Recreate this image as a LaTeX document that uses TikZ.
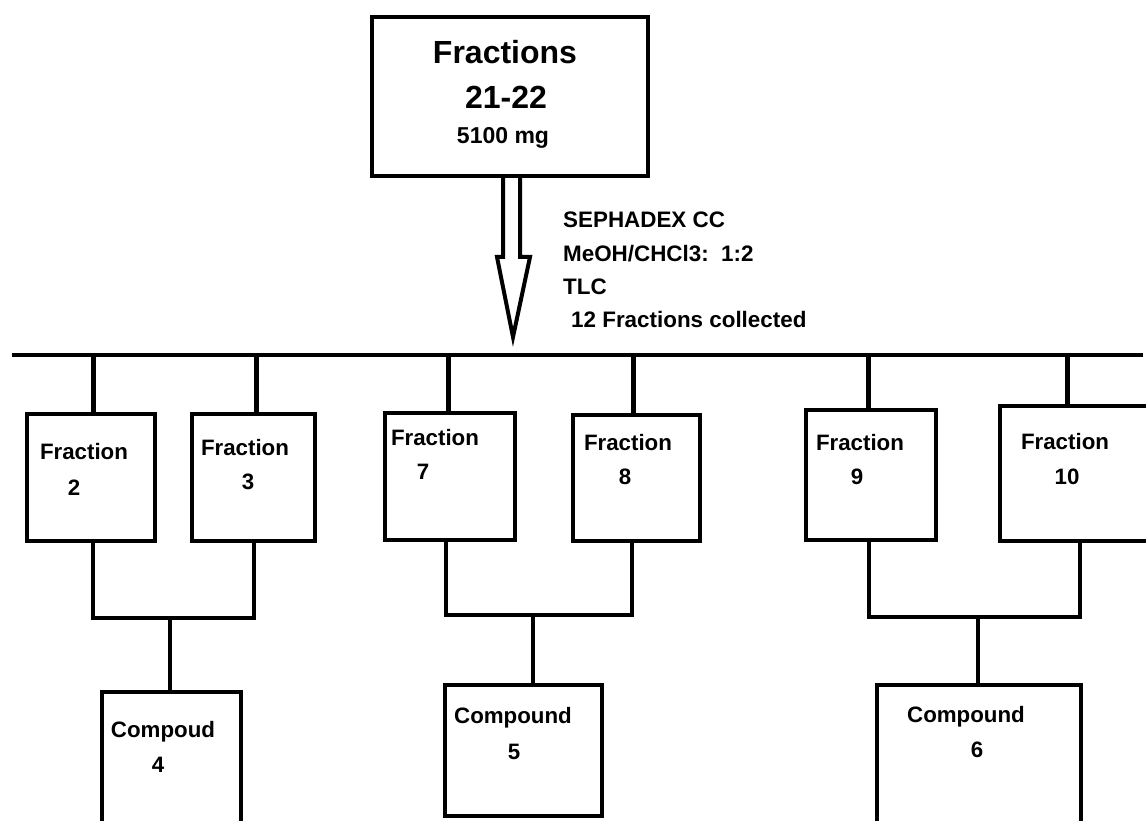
\documentclass[tikz,border=0pt]{standalone}
\usepackage{fontspec}
\setmainfont{Liberation Sans}
\usetikzlibrary{calc}
\begin{document}
\begin{tikzpicture}[x=1pt,y=-1pt,
  box/.style={draw,line width=4pt,inner sep=0pt},
  lbl/.style={font=\bfseries\fontsize{22.3}{24}\selectfont,inner sep=0pt},
  conn/.style={line width=4pt},
  tconn/.style={line width=5pt}]
\useasboundingbox (0,0) rectangle (1146,821);
\clip (0,0) rectangle (1146,821);
% top box
\node[box,minimum width=276pt,minimum height=159pt] (top) at (510,96.5) {};
\node[inner sep=0pt,font=\bfseries\fontsize{32}{36}\selectfont] (t1) at (505,52) {Fractions};
\node[inner sep=0pt,font=\bfseries\fontsize{32}{36}\selectfont] (t2) at (506,97) {21-22};
\node[inner sep=0pt,font=\bfseries\fontsize{23}{26}\selectfont] (t3) at (503,138) {5100 mg};
% hollow arrow
\draw[line width=4pt,line join=miter]
  ($(top.south)+(-7,0)$) -- ++(0,79) -- ++(-6,0) -- ($(top.south)+(3,159)$)
  -- ($(top.south)+(20,79)$) -- ($(top.south)+(10,79)$) -- ($(top.south)+(10,0)$);
\node[inner sep=0pt,anchor=west,align=left,font=\bfseries\fontsize{22.4}{33.4}\selectfont] (note) at (563,270)
  {SEPHADEX CC\\MeOH/CHCl3:\ \ 1:2\\TLC\\\hspace*{8pt}12 Fractions collected};
% bus
\coordinate (busL) at (12,355);
\coordinate (busR) at (1143,355);
\draw[conn] (busL) -- (busR);
% fraction boxes
\node[box,minimum width=128pt,minimum height=127pt] (f2) at (91,477.5) {};
\node[box,minimum width=123pt,minimum height=127pt] (f3) at (253.5,477.5) {};
\node[box,minimum width=130pt,minimum height=127pt] (f7) at (450,476.5) {};
\node[box,minimum width=127pt,minimum height=126pt] (f8) at (636.5,478) {};
\node[box,minimum width=130pt,minimum height=130pt] (f9) at (871,475) {};
\node[box,minimum width=158pt,minimum height=135pt] (f10) at (1079,473.5) {};
\node[lbl] (f2a) at (84,452) {Fraction};
\node[lbl] (f2b) at (74,488) {2};
\node[lbl] (f3a) at (245,448) {Fraction};
\node[lbl] (f3b) at (248,482) {3};
\node[lbl] (f7a) at (435,438) {Fraction};
\node[lbl] (f7b) at (423,472) {7};
\node[lbl] (f8a) at (628,443) {Fraction};
\node[lbl] (f8b) at (625,477) {8};
\node[lbl] (f9a) at (860,443) {Fraction};
\node[lbl] (f9b) at (857,477) {9};
\node[lbl] (f10a) at (1065,442) {Fraction};
\node[lbl] (f10b) at (1067,477) {10};
% top connectors
\coordinate (u2) at ($(f2.north)+(2,0)$);
\coordinate (u3) at ($(f3.north)+(2.5,0)$);
\coordinate (u7) at ($(f7.north)+(-2,0)$);
\coordinate (u8) at ($(f8.north)+(-3.5,0)$);
\coordinate (u9) at ($(f9.north)+(-3,0)$);
\coordinate (u10) at ($(f10.north)+(-12,0)$);
\foreach \u in {u2,u3,u7,u8,u9,u10}
  \draw[tconn] (\u) -- (\u |- busL);
% compound boxes
\node[box,minimum width=139pt,minimum height=146pt] (c4) at (171.5,765) {};
\node[box,minimum width=157pt,minimum height=131pt] (c5) at (523.5,750.5) {};
\node[box,minimum width=204pt,minimum height=153pt] (c6) at (979,761.5) {};
\node[lbl] (c4a) at (163,732) {Compoud};
\node[lbl] (c4b) at (158,765) {4};
\node[lbl] (c5a) at (513,718) {Compound};
\node[lbl] (c5b) at (514,752) {5};
\node[lbl] (c6a) at (966,717) {Compound};
\node[lbl] (c6b) at (977,750) {6};
% bottom connectors
\coordinate (j1) at (170,618);
\coordinate (j2) at (533,615);
\coordinate (j3) at (978,617);
\coordinate (d2) at ($(f2.south)+(2,0)$);
\coordinate (d3) at ($(f3.south)+(0.5,0)$);
\coordinate (d7) at ($(f7.south)+(-4,0)$);
\coordinate (d8) at ($(f8.south)+(-4.5,0)$);
\coordinate (d9) at ($(f9.south)+(-2,0)$);
\coordinate (d10) at ($(f10.south)+(1,0)$);
\draw[conn,line join=miter] (d2) -- (d2 |- j1) -- (d3 |- j1) -- (d3);
\draw[conn] (j1) -- (j1 |- c4.north);
\draw[conn,line join=miter] (d7) -- (d7 |- j2) -- (d8 |- j2) -- (d8);
\draw[conn] (j2) -- (j2 |- c5.north);
\draw[conn,line join=miter] (d9) -- (d9 |- j3) -- (d10 |- j3) -- (d10);
\draw[conn] (j3) -- (j3 |- c6.north);
\end{tikzpicture}
\end{document}
